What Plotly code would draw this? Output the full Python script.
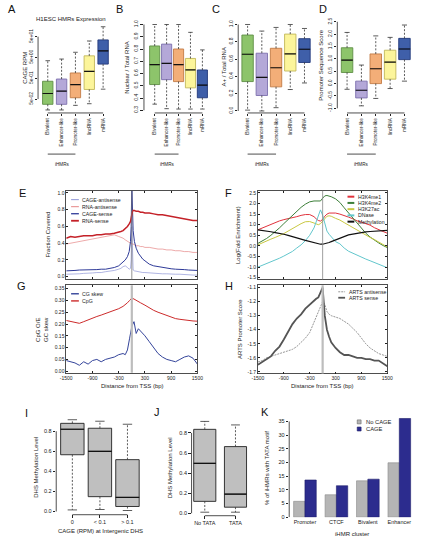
import math
import plotly.graph_objects as go

W, H = 422, 541
FONT = "Liberation Sans, Arial, sans-serif"

# ------------------------------------------------------------------ data
CATS = ["Bivalent", "Enhancer-like", "Promoter-like", "lincRNA", "mRNA"]

# A: CAGE RPM (log)
A_lo = [0.015, 0.015, 0.025, 0.03, 0.15]
A_q1 = [0.028, 0.028, 0.058, 0.145, 2.4]
A_med = [0.093, 0.12, 0.25, 1.08, 10.4]
A_q3 = [0.36, 0.46, 0.9, 6.0, 35]
A_hi = [3.5, 4.2, 8.9, 31, 150]
A_ticks = [0.05, 0.5, 5, 50]
A_ticktext = ["5e-02", "5e-01", "5e+00", "5e+01"]

# B: Nuclear / Total RNA
B_lo = [0.35, 0.313, 0.31, 0.31, 0.31]
B_q1 = [0.51, 0.55, 0.534, 0.483, 0.402]
B_med = [0.672, 0.683, 0.672, 0.629, 0.505]
B_q3 = [0.825, 0.84, 0.80, 0.723, 0.629]
B_hi = [1.0, 1.0, 1.0, 0.936, 0.793]

# C: A+ / Total RNA
C_lo = [0.01, 0.0, 0.038, 0.248, 0.324]
C_q1 = [0.34, 0.179, 0.279, 0.462, 0.561]
C_med = [0.656, 0.389, 0.5, 0.66, 0.714]
C_q3 = [0.878, 0.668, 0.725, 0.889, 0.836]
C_hi = [1.0, 0.924, 0.966, 1.0, 0.954]

# D: Promoter Sequence Score
D_lo = [-0.23, -0.9, -0.6, -0.2, 0.1]
D_q1 = [0.45, -0.58, 0.0, 0.18, 0.97]
D_med = [0.95, -0.27, 0.6, 0.87, 1.4]
D_q3 = [1.45, 0.1, 1.2, 1.35, 1.83]
D_hi = [2.07, 0.75, 1.93, 1.87, 2.37]

# E: fraction covered around TSS
E_x = [-1500, -1400, -1300, -1200, -1100, -1000, -900, -800, -700, -600, -500, -400, -300, -250,
       -200, -150, -100, -60, -30, -15, 0, 15, 30, 60, 100, 150, 200, 250, 300, 400, 500, 600,
       700, 800, 900, 1000, 1100, 1200, 1300, 1400, 1500]
E_rna_sense = [0.46, 0.48, 0.47, 0.48, 0.49, 0.49, 0.49, 0.50, 0.50, 0.51, 0.51, 0.52, 0.53, 0.54,
               0.55, 0.57, 0.60, 0.63, 0.66, 0.70, 0.75, 0.78, 0.79, 0.79, 0.78, 0.78, 0.77, 0.77,
               0.76, 0.76, 0.75, 0.74, 0.74, 0.73, 0.72, 0.71, 0.70, 0.69, 0.68, 0.67, 0.67]
E_rna_anti = [0.39, 0.40, 0.41, 0.42, 0.43, 0.44, 0.45, 0.46, 0.47, 0.48, 0.49, 0.50, 0.48, 0.47,
              0.46, 0.44, 0.42, 0.41, 0.40, 0.40, 0.39, 0.39, 0.39, 0.38, 0.37, 0.37, 0.36, 0.36,
              0.35, 0.35, 0.34, 0.33, 0.33, 0.32, 0.32, 0.31, 0.31, 0.30, 0.30, 0.29, 0.29]
E_cage_sense = [0.07, 0.07, 0.075, 0.08, 0.08, 0.08, 0.085, 0.085, 0.09, 0.09, 0.10, 0.11, 0.13, 0.15,
                0.17, 0.20, 0.24, 0.30, 0.42, 0.60, 1.10, 0.80, 0.55, 0.42, 0.34, 0.28, 0.24, 0.21,
                0.19, 0.15, 0.13, 0.12, 0.11, 0.10, 0.095, 0.09, 0.09, 0.085, 0.08, 0.08, 0.075]
E_cage_anti = [0.03, 0.03, 0.035, 0.035, 0.04, 0.04, 0.045, 0.05, 0.05, 0.06, 0.065, 0.075, 0.09, 0.10,
               0.12, 0.13, 0.11, 0.09, 0.10, 0.20, 0.60, 0.20, 0.08, 0.07, 0.065, 0.06, 0.055, 0.05,
               0.05, 0.045, 0.04, 0.04, 0.035, 0.035, 0.03, 0.03, 0.03, 0.025, 0.025, 0.02, 0.02]

# F/G/H common x
P_x = [-1500, -1400, -1300, -1200, -1100, -1000, -900, -800, -700, -600, -500, -400, -300, -200,
       -150, -100, -50, 0, 50, 100, 150, 200, 300, 400, 500, 600, 700, 800, 900, 1000, 1100, 1200,
       1300, 1400, 1500]
F_h3k4me1 = [0.76, 0.85, 0.92, 1.0, 1.12, 1.18, 1.24, 1.28, 1.32, 1.38, 1.44, 1.48, 1.48, 1.38,
             1.28, 1.2, 1.17, 1.25, 1.40, 1.50, 1.55, 1.56, 1.55, 1.50, 1.44, 1.36, 1.28, 1.18, 1.12,
             1.05, 0.98, 0.86, 0.76, 0.68, 0.60]
F_h3k4me2 = [0.12, 0.22, 0.35, 0.50, 0.66, 0.85, 1.05, 1.25, 1.47, 1.65, 1.82, 1.97, 2.08, 2.12,
             2.12, 2.10, 2.12, 2.25, 2.36, 2.38, 2.36, 2.32, 2.22, 2.05, 1.80, 1.55, 1.30, 1.05, 0.80,
             0.60, 0.42, 0.27, 0.14, 0.02, -0.08]
F_h3k27ac = [0.05, 0.15, 0.25, 0.32, 0.40, 0.48, 0.58, 0.70, 0.82, 0.95, 1.05, 1.14, 1.15, 1.08,
             1.03, 1.0, 1.05, 1.18, 1.32, 1.40, 1.42, 1.40, 1.30, 1.22, 1.10, 0.98, 0.85, 0.75, 0.65,
             0.52, 0.40, 0.30, 0.18, 0.05, -0.05]
F_dnase = [-1.0, -0.92, -0.85, -0.75, -0.68, -0.58, -0.48, -0.38, -0.26, -0.1, 0.05, 0.25, 0.5, 0.85,
           1.15, 1.45, 1.70, 1.45, 1.05, 0.7, 0.55, 0.45, 0.2, 0.1, -0.1, -0.25, -0.35, -0.45, -0.55,
           -0.62, -0.7, -0.78, -0.88, -0.95, -1.03]
F_meth = [0.76, 0.74, 0.70, 0.67, 0.63, 0.6, 0.55, 0.5, 0.45, 0.38, 0.32, 0.26, 0.2, 0.15, 0.12, 0.1,
          0.08, 0.08, 0.1, 0.13, 0.16, 0.2, 0.28, 0.38, 0.46, 0.52, 0.56, 0.60, 0.63, 0.66, 0.68, 0.70,
          0.71, 0.72, 0.73]

G_cpg = [0.215, 0.21, 0.205, 0.203, 0.21, 0.218, 0.225, 0.232, 0.238, 0.245, 0.25, 0.258, 0.265, 0.275,
         0.282, 0.29, 0.3, 0.31, 0.306, 0.30, 0.295, 0.29, 0.28, 0.268, 0.258, 0.25, 0.243, 0.235, 0.228,
         0.223, 0.22, 0.217, 0.215, 0.213, 0.212]
G_skew = [0.045, 0.04, 0.035, 0.025, 0.04, 0.03, 0.045, 0.05, 0.04, 0.05, 0.055, 0.06, 0.07, 0.075,
          0.07, 0.09, 0.14, 0.19, 0.21, 0.16, 0.18, 0.17, 0.15, 0.125, 0.1, 0.075, 0.06, 0.05, 0.045,
          0.04, 0.05, 0.06, 0.065, 0.055, 0.03]

H_sense = [-1.65, -1.63, -1.61, -1.59, -1.55, -1.52, -1.47, -1.41, -1.36, -1.32, -1.29, -1.25, -1.22,
           -1.19, -1.18, -1.17, -1.14, -1.10, -1.30, -1.40, -1.45, -1.49, -1.53, -1.56, -1.58, -1.58,
           -1.59, -1.60, -1.60, -1.61, -1.61, -1.62, -1.62, -1.64, -1.66]
H_anti = [-1.63, -1.62, -1.60, -1.59, -1.58, -1.57, -1.56, -1.55, -1.54, -1.52, -1.49, -1.46, -1.42,
          -1.35, -1.31, -1.27, -1.24, -1.20, -1.22, -1.27, -1.29, -1.30, -1.31, -1.32, -1.34, -1.36,
          -1.39, -1.42, -1.46, -1.50, -1.53, -1.55, -1.57, -1.58, -1.59]

TSS_ticks = [-1500, -900, -300, 300, 900, 1500]

# I: DHS methylation by CAGE
I_cats = ["0", "< 0.1", "> 0.1"]
I_lo = [0.016, 0.02, 0.01]
I_q1 = [0.566, 0.148, 0.05]
I_med = [0.82, 0.60, 0.14]
I_q3 = [0.879, 0.83, 0.517]
I_hi = [0.915, 0.90, 0.87]

# J: DHS methylation by TATA
J_cats = ["No TATA", "TATA"]
J_lo = [0.01, 0.01]
J_q1 = [0.118, 0.06]
J_med = [0.497, 0.19]
J_q3 = [0.836, 0.664]
J_hi = [0.915, 0.88]

# K: % of iHMRs with TATA motif
K_cats = ["Promoter", "CTCF", "Bivalent", "Enhancer"]
K_nocage = [5.8, 8.2, 13.3, 19.9]
K_cage = [13.6, 11.5, 13.9, 36.1]

# ------------------------------------------------------------------ styles
BOX_FILL = ["#8dc46b", "#b4a8d8", "#f3ae78", "#fcf59b", "#3f5fa9"]
BOX_LINE = ["#5f8f45", "#7d6fae", "#c37c45", "#c2b85a", "#22397c"]
AXC = "#222222"

fig = go.Figure()
layout_axes = {}
shapes = []
anns = []


def refs(n):
    return ("x" if n == 1 else f"x{n}"), ("y" if n == 1 else f"y{n}")


def set_axes(n, xdom, ydom, xkw, ykw):
    xr, yr = refs(n)
    xk = "xaxis" if n == 1 else f"xaxis{n}"
    yk = "yaxis" if n == 1 else f"yaxis{n}"
    xa = dict(domain=[xdom[0] / W, xdom[1] / W], anchor=yr, showgrid=False, zeroline=False,
              tickcolor=AXC, linecolor=AXC, tickfont=dict(size=5, color=AXC, family=FONT))
    xa.update(xkw)
    ya = dict(domain=[1 - ydom[1] / H, 1 - ydom[0] / H], anchor=xr, showgrid=False, zeroline=False,
              tickcolor=AXC, linecolor=AXC, tickfont=dict(size=5, color=AXC, family=FONT))
    ya.update(ykw)
    layout_axes[xk] = xa
    layout_axes[yk] = ya


def ann(text, x, y, size=5.5, angle=0, xanchor="center", yanchor="middle", color=AXC):
    anns.append(dict(text=text, x=x / W, y=1 - y / H, xref="paper", yref="paper", showarrow=False,
                     textangle=angle, xanchor=xanchor, yanchor=yanchor,
                     font=dict(size=size, color=color, family=FONT)))


def add_boxes(n, lo, q1, med, q3, hi, fills, outlines, w, cap=0.22, wcol="#333333"):
    xr, yr = refs(n)
    wx, wy, cx, cy, mx, my = [], [], [], [], [], []
    for i in range(len(med)):
        fig.add_trace(go.Box(x=[i], q1=[q1[i]], median=[med[i]], q3=[q3[i]], lowerfence=[q1[i]],
                             upperfence=[q3[i]], width=w, fillcolor=fills[i],
                             line=dict(color=outlines[i], width=0.9), whiskerwidth=0,
                             xaxis=xr, yaxis=yr, showlegend=False, hoverinfo="skip"))
        wx += [i, i, None, i, i, None]
        wy += [q3[i], hi[i], None, q1[i], lo[i], None]
        cx += [i - cap * w, i + cap * w, None, i - cap * w, i + cap * w, None]
        cy += [hi[i], hi[i], None, lo[i], lo[i], None]
        mx += [i - w / 2, i + w / 2, None]
        my += [med[i], med[i], None]
    fig.add_trace(go.Scatter(x=wx, y=wy, mode="lines", line=dict(color=wcol, width=0.8, dash="2px,1.6px"),
                             xaxis=xr, yaxis=yr, showlegend=False, hoverinfo="skip"))
    fig.add_trace(go.Scatter(x=cx, y=cy, mode="lines", line=dict(color=wcol, width=0.8),
                             xaxis=xr, yaxis=yr, showlegend=False, hoverinfo="skip"))
    fig.add_trace(go.Scatter(x=mx, y=my, mode="lines", line=dict(color="#111111", width=1.2),
                             xaxis=xr, yaxis=yr, showlegend=False, hoverinfo="skip"))


def r_axes(n, ncat, ybot_px, y0f, y1f):
    """R-style axis lines: x bracket at the bottom between first and last category,
    y axis line from first tick to last tick (given as domain fractions)."""
    xr, yr = refs(n)
    shapes.append(dict(type="line", xref=xr, yref="paper", x0=0, x1=ncat - 1,
                       y0=1 - ybot_px / H, y1=1 - ybot_px / H, line=dict(color=AXC, width=0.8)))
    shapes.append(dict(type="line", xref=f"{xr} domain", yref=f"{yr} domain", x0=0, x1=0,
                       y0=y0f, y1=y1f, line=dict(color=AXC, width=0.8)))


def frac(v, r):
    return (v - r[0]) / (r[1] - r[0])


# ------------------------------------------------------------------ A-D box plots
xcat = dict(tickvals=list(range(5)), ticktext=CATS, tickangle=-90, ticks="outside", ticklen=2.5,
            showline=False, tickfont=dict(size=4.6, color=AXC, family=FONT))

# A
A_range = [-1.968, 2.318]
set_axes(1, (33, 108.5), (22, 112), dict(range=[-0.7, 4.6], **xcat),
         dict(type="log", range=A_range, tickvals=A_ticks, ticktext=A_ticktext, tickangle=-90,
              ticks="outside", ticklen=2.5, showline=False))
add_boxes(1, A_lo, A_q1, A_med, A_q3, A_hi, BOX_FILL, BOX_LINE, 0.75)
r_axes(1, 5, 112, frac(math.log10(0.05), A_range), frac(math.log10(50), A_range))

# B
B_range = [0.278, 1.022]
set_axes(2, (142, 209.5), (20, 112), dict(range=[-0.9, 4.6], **xcat),
         dict(range=B_range, tickvals=[0.3, 0.4, 0.5, 0.6, 0.7, 0.8, 0.9, 1.0],
              ticktext=["0.3", "0.4", "0.5", "0.6", "0.7", "0.8", "0.9", "1.0"], tickangle=-90,
              ticks="outside", ticklen=2.5, showline=False))
add_boxes(2, B_lo, B_q1, B_med, B_q3, B_hi, BOX_FILL, BOX_LINE, 0.85)
r_axes(2, 5, 112, frac(0.3, B_range), frac(1.0, B_range))

# C
C_range = [-0.023, 1.031]
set_axes(3, (239, 316), (20, 112), dict(range=[-0.66, 4.6], **xcat),
         dict(range=C_range, tickvals=[0, 0.2, 0.4, 0.6, 0.8, 1.0],
              ticktext=["0.0", "0.2", "0.4", "0.6", "0.8", "1.0"], tickangle=-90,
              ticks="outside", ticklen=2.5, showline=False))
add_boxes(3, C_lo, C_q1, C_med, C_q3, C_hi, BOX_FILL, BOX_LINE, 0.8)
r_axes(3, 5, 112, frac(0.0, C_range), frac(1.0, C_range))

# D
D_range = [-1.188, 2.58]
set_axes(4, (341, 419), (18, 112), dict(range=[-0.68, 4.6], **xcat),
         dict(range=D_range, tickvals=[-1.0, -0.5, 0, 0.5, 1.0, 1.5, 2.0, 2.5],
              ticktext=["-1.0", "-0.5", "0.0", "0.5", "1.0", "1.5", "2.0", "2.5"], tickangle=-90,
              ticks="outside", ticklen=2.5, showline=False))
add_boxes(4, D_lo, D_q1, D_med, D_q3, D_hi, BOX_FILL, BOX_LINE, 0.8)
r_axes(4, 5, 112, frac(-1.0, D_range), frac(2.5, D_range))

# iHMRs brackets
for n in (1, 2, 3, 4):
    xr, yr = refs(n)
    shapes.append(dict(type="line", xref=xr, yref="paper", x0=0, x1=2, y0=1 - 153.5 / H, y1=1 - 153.5 / H,
                       line=dict(color=AXC, width=0.8)))
    anns.append(dict(text="iHMRs", x=1, y=1 - 159.5 / H, xref=xr, yref="paper", showarrow=False,
                     font=dict(size=4.6, color=AXC, family=FONT)))

ann("H1ESC HMRs Expression", 67, 17.5, size=6)
ann("CAGE RPM", 20, 66, size=6, angle=-90)
ann("Nuclear / Total RNA", 125, 66, size=6, angle=-90)
ann("A+ / Total RNA", 224.5, 66, size=6, angle=-90)
ann("Promoter Sequence Score", 324.5, 64, size=6, angle=-90)

# ------------------------------------------------------------------ E-H line panels
frame = dict(showline=True, mirror="ticks", ticks="inside", ticklen=2, linewidth=0.8)
tss_x = dict(range=[-1500, 1500], tickvals=TSS_ticks, ticktext=[str(v) for v in TSS_ticks], **frame)

# E
set_axes(5, (62, 197), (190.5, 280), dict(showticklabels=False, **tss_x),
         dict(range=[-0.032, 1.026], tickvals=[0, 0.2, 0.4, 0.6, 0.8, 1.0],
              ticktext=["0.0", "0.2", "0.4", "0.6", "0.8", "1.0"], **frame))
shapes.append(dict(type="line", xref="x5", yref="y5 domain", x0=0, x1=0, y0=0, y1=1,
                   line=dict(color="#777777", width=0.8)))
E_series = [("CAGE-antisense", E_cage_anti, "#8e95d6", 0.7),
            ("RNA-antisense", E_rna_anti, "#e58585", 0.7),
            ("CAGE-sense", E_cage_sense, "#2e3a98", 1.0),
            ("RNA-sense", E_rna_sense, "#c42128", 1.5)]
for name, ys, col, lw in E_series:
    fig.add_trace(go.Scatter(x=E_x, y=ys, mode="lines", name=name, line=dict(color=col, width=lw),
                             xaxis="x5", yaxis="y5", showlegend=False, hoverinfo="skip"))
for k, (name, ys, col, lw) in enumerate(E_series):
    yy = 199.5 + k * 7.1
    shapes.append(dict(type="line", xref="paper", yref="paper", x0=67 / W, x1=75 / W,
                       y0=1 - yy / H, y1=1 - yy / H, line=dict(color=col, width=lw + 0.3)))
    ann(name, 76.5, yy, size=5.2, xanchor="left")
ann("Fraction Covered", 43, 235, size=6, angle=-90)

# F
set_axes(6, (259.3, 392.5), (190.5, 280), dict(showticklabels=False, **tss_x),
         dict(range=[-1.58, 2.603], tickvals=[-1.5, -1.0, -0.5, 0, 0.5, 1.0, 1.5, 2.0, 2.5],
              ticktext=["-1.5", "-1.0", "-0.5", "0.0", "0.5", "1.0", "1.5", "2.0", "2.5"], **frame))
shapes.append(dict(type="line", xref="x6", yref="y6 domain", x0=0, x1=0, y0=0, y1=1,
                   line=dict(color="#888888", width=0.8)))
F_series = [("H3K4me1", F_h3k4me1, "#e0323c", 1.0),
            ("H3K4me2", F_h3k4me2, "#3d7f3a", 1.0),
            ("H3K27ac", F_h3k27ac, "#c9c842", 1.0),
            ("DNase", F_dnase, "#62c6cc", 1.0),
            ("Methylation", F_meth, "#111111", 1.2)]
for name, ys, col, lw in F_series:
    fig.add_trace(go.Scatter(x=P_x, y=ys, mode="lines", name=name, line=dict(color=col, width=lw),
                             xaxis="x6", yaxis="y6", showlegend=False, hoverinfo="skip"))
for k, (name, ys, col, lw) in enumerate(F_series):
    yy = 196.5 + k * 6.3
    shapes.append(dict(type="line", xref="paper", yref="paper", x0=351.5 / W, x1=358.5 / W,
                       y0=1 - yy / H, y1=1 - yy / H, line=dict(color=col, width=2)))
    ann(name, 360, yy, size=5.2, xanchor="left")
ann("Log(Fold Enrichment)", 239, 235, size=6, angle=-90)

# G
set_axes(7, (62, 197), (286, 374.3), dict(showticklabels=True, **tss_x),
         dict(range=[-0.007, 0.364], tickvals=[0, 0.05, 0.1, 0.15, 0.2, 0.25, 0.3, 0.35],
              ticktext=["0.00", "0.05", "0.10", "0.15", "0.20", "0.25", "0.30", "0.35"], **frame))
shapes.append(dict(type="line", xref="x7", yref="y7 domain", x0=0, x1=0, y0=0, y1=1,
                   line=dict(color="#bdbdbd", width=2.2)))
G_series = [("CG skew", G_skew, "#34449a", 1.0), ("CpG", G_cpg, "#cc2b2b", 1.0)]
for name, ys, col, lw in G_series:
    fig.add_trace(go.Scatter(x=P_x, y=ys, mode="lines", name=name, line=dict(color=col, width=lw),
                             xaxis="x7", yaxis="y7", showlegend=False, hoverinfo="skip"))
for k, (name, ys, col, lw) in enumerate(G_series):
    yy = 294.5 + k * 7.2
    shapes.append(dict(type="line", xref="paper", yref="paper", x0=67 / W, x1=75 / W,
                       y0=1 - yy / H, y1=1 - yy / H, line=dict(color=col, width=1.4)))
    ann(name, 76.5, yy, size=5.2, xanchor="left")
ann("CpG O/E<br>GC skew", 37, 330, size=6, angle=-90)
ann("Distance from TSS (bp)", 130, 388, size=6)

# H
set_axes(8, (259.3, 392.5), (286, 375), dict(showticklabels=True, **tss_x),
         dict(range=[-1.712, -1.084], tickvals=[-1.7, -1.6, -1.5, -1.4, -1.3, -1.2, -1.1],
              ticktext=["-1.7", "-1.6", "-1.5", "-1.4", "-1.3", "-1.2", "-1.1"], **frame))
shapes.append(dict(type="line", xref="x8", yref="y8 domain", x0=0, x1=0, y0=0, y1=1,
                   line=dict(color="#bdbdbd", width=2.2)))
H_series = [("ARTS antisense", H_anti, "#8a8a8a", 0.9, "2px,1px"),
            ("ARTS sense", H_sense, "#555555", 1.8, "solid")]
for name, ys, col, lw, dash in H_series:
    fig.add_trace(go.Scatter(x=P_x, y=ys, mode="lines", name=name, line=dict(color=col, width=lw, dash=dash),
                             xaxis="x8", yaxis="y8", showlegend=False, hoverinfo="skip"))
for k, (name, ys, col, lw, dash) in enumerate(H_series):
    yy = 292.5 + k * 6.0
    shapes.append(dict(type="line", xref="paper", yref="paper", x0=342 / W, x1=349 / W,
                       y0=1 - yy / H, y1=1 - yy / H, line=dict(color=col, width=lw, dash=dash)))
    ann(name, 351, yy, size=5.2, xanchor="left")
ann("ARTS Promoter Score", 241, 330, size=6, angle=-90)
ann("Distance from TSS (bp)", 326, 388, size=6)

# ------------------------------------------------------------------ I, J box plots
ylab = dict(tickvals=[0, 0.2, 0.4, 0.6, 0.8], ticktext=["0.0", "0.2", "0.4", "0.6", "0.8"],
            ticks="outside", ticklen=2.5, showline=False, tickfont=dict(size=5.5, color=AXC, family=FONT))
I_range = [-0.027, 0.931]
set_axes(9, (51.7, 139.2), (420, 517), dict(range=[-0.585, 2.5], tickvals=[0, 1, 2], ticktext=I_cats,
                                           ticks="outside", ticklen=2.5, showline=False,
                                           tickfont=dict(size=5.5, color=AXC, family=FONT)),
         dict(range=I_range, **ylab))
add_boxes(9, I_lo, I_q1, I_med, I_q3, I_hi, ["#bfbfbf"] * 3, ["#222222"] * 3, 0.85, cap=0.2)
r_axes(9, 3, 517.5, frac(0, I_range), frac(0.8, I_range))
ann("DHS Methylation Level", 31, 470, size=6, angle=-90)
ann("CAGE (RPM) at Intergenic DHS", 97, 533.5, size=6)

J_range = [-0.02, 0.938]
set_axes(10, (191, 252), (421, 518), dict(range=[-0.43, 1.5], tickvals=[0, 1], ticktext=J_cats,
                                         ticks="outside", ticklen=2.5, showline=False,
                                         tickfont=dict(size=5.5, color=AXC, family=FONT)),
         dict(range=J_range, **ylab))
add_boxes(10, J_lo, J_q1, J_med, J_q3, J_hi, ["#bfbfbf"] * 2, ["#222222"] * 2, 0.72, cap=0.2)
r_axes(10, 2, 518.5, frac(0, J_range), frac(0.8, J_range))
ann("DHS Methylation Level", 168.5, 470, size=6, angle=-90)

# ------------------------------------------------------------------ K bars
K_range = [0, 36.96]
set_axes(11, (291.5, 421), (418, 520), dict(range=[-0.5, 3.5], tickvals=[0, 1, 2, 3], ticktext=K_cats,
                                           ticks="", showline=False,
                                           tickfont=dict(size=5.5, color=AXC, family=FONT)),
         dict(range=K_range, tickvals=[0, 5, 10, 15, 20, 25, 30, 35],
              ticktext=["0", "5", "10", "15", "20", "25", "30", "35"], ticks="outside", ticklen=2.5,
              showline=False, tickfont=dict(size=5.5, color=AXC, family=FONT)))
fig.add_trace(go.Bar(x=[0, 1, 2, 3], y=K_nocage, name="No CAGE", marker=dict(color="#b5b5b5",
                     line=dict(color="#8c8c8c", width=0.6)), xaxis="x11", yaxis="y11",
                     showlegend=False, hoverinfo="skip"))
fig.add_trace(go.Bar(x=[0, 1, 2, 3], y=K_cage, name="CAGE", marker=dict(color="#2c2c8e",
                     line=dict(color="#1d1d6a", width=0.6)), xaxis="x11", yaxis="y11",
                     showlegend=False, hoverinfo="skip"))
shapes.append(dict(type="line", xref="x11 domain", yref="y11", x0=0, x1=0, y0=0, y1=35,
                   line=dict(color=AXC, width=0.8)))
for k, (name, col, lc) in enumerate([("No CAGE", "#b5b5b5", "#666666"), ("CAGE", "#2c2c8e", "#1d1d6a")]):
    yy = 423.8 + k * 7.2
    shapes.append(dict(type="rect", xref="paper", yref="paper", x0=361.5 / W, x1=365.5 / W,
                       y0=1 - (yy + 2) / H, y1=1 - (yy - 2) / H, fillcolor=col,
                       line=dict(color=lc, width=0.6)))
    ann(name, 368, yy, size=5.8, xanchor="left")
ann("% of iHMRs with TATA motif", 268, 470, size=6, angle=-90)
ann("iHMR cluster", 356, 536.5, size=6)

# ------------------------------------------------------------------ panel letters
for letter, x, y in [("A", 6, 7), ("B", 117, 7), ("C", 216, 7), ("D", 326, 7), ("E", 17, 193),
                     ("F", 228.5, 193), ("G", 16, 287), ("H", 229.5, 287), ("I", 21, 415),
                     ("J", 155.5, 414), ("K", 267, 414)]:
    ann(letter, x, y, size=11, color="#111111")

fig.update_layout(width=W, height=H, margin=dict(l=0, r=0, t=0, b=0), paper_bgcolor="white",
                  plot_bgcolor="rgba(0,0,0,0)", font=dict(family=FONT, size=5, color=AXC),
                  showlegend=False, barmode="group", bargap=0.28, bargroupgap=0,
                  shapes=shapes, annotations=anns, **layout_axes)

fig.write_html("out.html", config={"displayModeBar": False, "staticPlot": True},
               post_script="document.body.style.margin='0';document.body.style.padding='0';")
